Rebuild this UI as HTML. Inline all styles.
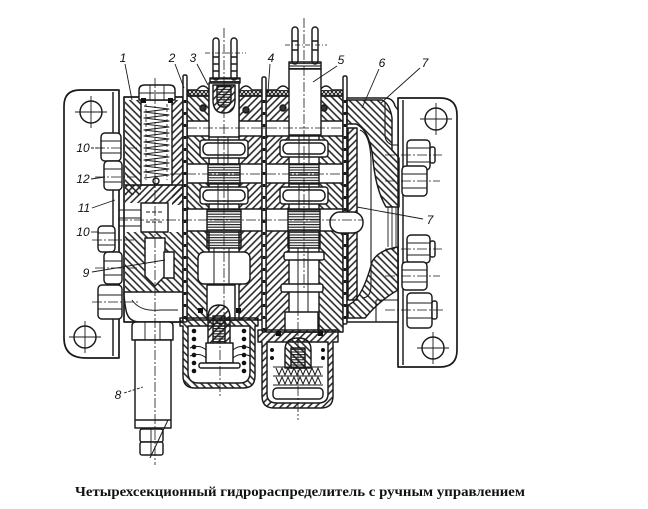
<!DOCTYPE html>
<html><head><meta charset="utf-8">
<style>
html,body{margin:0;padding:0;background:#fff;}
svg{display:block}
</style></head>
<body>
<svg width="648" height="509" viewBox="0 0 648 509" xmlns="http://www.w3.org/2000/svg">
<defs>
<pattern id="hA" width="5" height="5" patternUnits="userSpaceOnUse" patternTransform="rotate(45)"><line x1="1" y1="0" x2="1" y2="5" stroke="#1c1c1c" stroke-width="1.5"/></pattern>
<pattern id="hB" width="5" height="5" patternUnits="userSpaceOnUse" patternTransform="rotate(-45)"><line x1="1" y1="0" x2="1" y2="5" stroke="#1c1c1c" stroke-width="1.5"/></pattern>
<pattern id="hz" width="6" height="2.6" patternUnits="userSpaceOnUse"><line x1="0" y1="1" x2="6" y2="1" stroke="#1c1c1c" stroke-width="1.1"/></pattern>
<pattern id="xh" width="4" height="4" patternUnits="userSpaceOnUse"><path d="M0 0L4 4M4 0L0 4" stroke="#1c1c1c" stroke-width="1"/></pattern>
</defs>
<rect width="648" height="509" fill="#fff"/>
<g fill="none" stroke="#1a1a1a" stroke-width="1.45" stroke-linejoin="round">

<!-- LEFT PLATE -->
<path d="M119 90 H80 Q64 90 64 106 V338 Q64 358 86 358 H119 Z" fill="#fff" stroke-width="1.7"/>
<line x1="113" y1="92" x2="113" y2="356"/>
<circle cx="91" cy="112" r="11"/>
<path d="M75 112H107M91 96V128" stroke-width="0.9"/>
<circle cx="85" cy="337" r="11"/>
<path d="M69 337H101M85 321V353" stroke-width="0.9"/>
<rect x="101" y="133" width="20" height="28" rx="4" fill="#fff"/>
<rect x="104" y="161" width="18" height="29" rx="4" fill="#fff"/>
<rect x="98" y="226" width="17" height="26" rx="4" fill="#fff"/>
<rect x="104" y="252" width="18" height="32" rx="4" fill="#fff"/>
<rect x="98" y="285" width="24" height="34" rx="4" fill="#fff"/>
<path d="M101 141H121M101 153H121M104 169H122M104 182H122M98 233H115M98 245H115M104 261H122M104 275H122M98 295H122M98 309H122" stroke-width="0.9"/>

<!-- RIGHT PLATE -->
<path d="M398 98 H440 Q457 98 457 115 V350 Q457 367 440 367 H398 Z" fill="#fff" stroke-width="1.7"/>
<line x1="403" y1="100" x2="403" y2="365"/>
<circle cx="436" cy="119" r="11"/>
<path d="M420 119H452M436 103V135" stroke-width="0.9"/>
<circle cx="433" cy="348" r="11"/>
<path d="M417 348H449M433 332V364" stroke-width="0.9"/>
<rect x="407" y="140" width="23" height="30" rx="4" fill="#fff"/>
<rect x="402" y="166" width="25" height="30" rx="4" fill="#fff"/>
<rect x="407" y="235" width="23" height="28" rx="4" fill="#fff"/>
<rect x="402" y="262" width="25" height="28" rx="4" fill="#fff"/>
<rect x="407" y="293" width="25" height="35" rx="4" fill="#fff"/>
<rect x="430" y="147" width="5" height="16" rx="2" fill="#fff"/>
<rect x="430" y="241" width="5" height="16" rx="2" fill="#fff"/>
<rect x="432" y="301" width="5" height="18" rx="2" fill="#fff"/>
<path d="M407 148H430M407 162H430M402 174H427M402 188H427M407 243H430M407 255H430M402 270H427M402 282H427M407 303H432M407 318H432" stroke-width="0.9"/>

<!-- RELIEF SECTION (1) -->
<rect x="124" y="97" width="59" height="225" fill="#fff"/>
<rect x="125" y="100" width="16" height="95" fill="url(#hB)" stroke="none"/>
<rect x="172" y="100" width="11" height="105" fill="url(#hA)" stroke="none"/>
<rect x="141" y="100" width="31" height="85" fill="#fff"/>
<path d="M144 106 L169 109 L144 112 L169 115 L144 118 L169 121 L144 124 L169 127 L144 130 L169 133 L144 136 L169 139 L144 142 L169 145 L144 148 L169 151 L144 154 L169 157 L144 160 L169 163 L144 166 L169 169 L144 172 L169 175 L144 178" stroke-width="1.1"/>
<path d="M146 104V180M167 104V180" stroke-width="0.8" stroke-dasharray="3 2"/>
<circle cx="156" cy="181" r="3" fill="#fff"/>
<rect x="125" y="185" width="58" height="18" fill="url(#hA)" stroke="none"/>
<line x1="125" y1="185" x2="183" y2="185"/>
<rect x="141" y="203" width="27" height="29" fill="#fff"/>
<path d="M146 212H163M146 222H163" stroke-dasharray="4 2" stroke-width="0.9"/>
<path d="M119 210H141M119 218H141M119 226H141" stroke-width="0.9"/>
<rect x="125" y="232" width="58" height="60" fill="url(#hB)" stroke="none"/>
<path d="M145 238 H165 V276 L155 286 L145 276 Z" fill="#fff"/>
<rect x="164" y="252" width="10" height="26" fill="#fff"/>
<path d="M124 292 H183 V322 H140 Q128 322 126 310 Q124 300 124 292Z" fill="#fff"/>
<path d="M132 300 Q140 312 160 310 H178" stroke-width="0.9"/>
<rect x="124" y="97" width="59" height="225"/>
<path d="M139 100 V90 Q139 85 145 85 H169 Q175 85 175 90 V100 Z" fill="#fff"/>
<path d="M150 85V100M164 85V100M139 93H175" stroke-width="0.9"/>
<rect x="141" y="98" width="5" height="5" fill="#111" stroke="none"/>
<rect x="168" y="98" width="5" height="5" fill="#111" stroke="none"/>

<!-- CYLINDER 8 -->
<path d="M132 326 Q132 322 136 322 H169 Q173 322 173 326 V340 H132 Z" fill="#fff"/>
<path d="M145 322V340M160 322V340" stroke-width="0.9"/>
<rect x="135" y="340" width="36" height="88" fill="#fff"/>
<path d="M135 420H171"/>
<rect x="140" y="429" width="23" height="13" rx="2" fill="#fff"/>
<rect x="140" y="442" width="23" height="13" rx="2" fill="#fff"/>
<path d="M151 429V455" stroke-width="0.9"/>
<line x1="168" y1="420" x2="150" y2="458" stroke-width="1"/>

<!-- SECTION 2 -->
<rect x="187" y="96" width="22" height="224" fill="url(#hB)" stroke="none"/>
<rect x="239" y="96" width="23" height="224" fill="url(#hA)" stroke="none"/>
<rect x="209" y="96" width="30" height="224" fill="#fff"/>
<rect x="187" y="121" width="75" height="15" fill="#fff"/>
<rect x="200" y="140" width="48" height="18" rx="3" fill="#fff"/>
<rect x="187" y="164" width="75" height="19" fill="#fff"/>
<rect x="200" y="187" width="48" height="17" rx="3" fill="#fff"/>
<rect x="187" y="209" width="75" height="22" fill="#fff"/>
<rect x="198" y="252" width="52" height="32" rx="6" fill="#fff"/>
<path d="M218 136V164M228 136V164M218 184V210M228 184V210M214 248V285M229 248V285" stroke-width="1"/>
<rect x="203" y="143" width="42" height="12" rx="5" fill="#fff"/>
<rect x="203" y="190" width="42" height="11" rx="5" fill="#fff"/>
<path d="M218 143V155M228 143V155M218 190V201M228 190V201" stroke-width="0.9"/>
<rect x="208" y="164" width="32" height="20" fill="url(#hz)"/>
<rect x="207" y="210" width="34" height="38" fill="url(#hz)"/>
<rect x="207" y="285" width="28" height="35" fill="#fff"/>
<rect x="187" y="96" width="75" height="224"/>
<rect x="188" y="90" width="21" height="6" fill="url(#xh)"/>
<rect x="239" y="90" width="23" height="6" fill="url(#xh)"/>
<path d="M197 90 Q203 82 209 90" fill="#fff"/>
<path d="M240 90 Q246 82 252 90" fill="#fff"/>
<circle cx="203" cy="108" r="3" fill="#333"/>
<circle cx="246" cy="110" r="3" fill="#333"/>

<!-- FORK 3 -->
<rect x="213" y="38" width="6" height="42" rx="3" fill="#fff"/>
<rect x="231" y="38" width="6" height="42" rx="3" fill="#fff"/>
<path d="M213 57H219M213 64H219M213 71H219M231 57H237M231 64H237M231 71H237"/>
<line x1="205" y1="53" x2="246" y2="53" stroke-dasharray="5 2 1 2" stroke-width="0.8"/>
<rect x="210" y="78" width="30" height="5" fill="url(#hz)"/>
<path d="M209 83 V137 H239 V83 Z" fill="#fff"/>
<path d="M213 85 V100 Q213 113 224 113 Q235 113 235 100 V85 Z" fill="url(#hA)"/>
<path d="M217 86 V99 Q217 107 224 107 Q231 107 231 99 V86 Z" fill="url(#hz)"/>

<!-- SECTION 3 -->
<rect x="266" y="96" width="23" height="236" fill="url(#hA)" stroke="none"/>
<rect x="319" y="96" width="24" height="236" fill="url(#hB)" stroke="none"/>
<rect x="289" y="135" width="30" height="197" fill="#fff"/>
<rect x="266" y="121" width="77" height="15" fill="#fff"/>
<rect x="280" y="140" width="48" height="17" rx="3" fill="#fff"/>
<rect x="266" y="164" width="77" height="19" fill="#fff"/>
<rect x="280" y="187" width="48" height="17" rx="3" fill="#fff"/>
<rect x="266" y="209" width="77" height="22" fill="#fff"/>
<path d="M299 136V164M309 136V164M299 184V210M309 184V210M298 248V312M308 248V312" stroke-width="1"/>
<rect x="283" y="143" width="42" height="11" rx="5" fill="#fff"/>
<rect x="283" y="190" width="42" height="11" rx="5" fill="#fff"/>
<path d="M299 143V154M309 143V154M299 190V201M309 190V201" stroke-width="0.9"/>
<rect x="289" y="164" width="30" height="20" fill="url(#hz)"/>
<rect x="288" y="210" width="32" height="38" fill="url(#hz)"/>
<rect x="284" y="252" width="40" height="8" rx="2" fill="#fff"/>
<rect x="281" y="284" width="42" height="8" rx="2" fill="#fff"/>
<path d="M298 252V260M308 252V260M298 284V292M308 284V292" stroke-width="0.9"/>
<rect x="285" y="312" width="33" height="20" fill="#fff"/>
<rect x="266" y="96" width="77" height="236"/>
<rect x="267" y="90" width="22" height="6" fill="url(#xh)"/>
<rect x="321" y="90" width="22" height="6" fill="url(#xh)"/>
<path d="M277 90 Q283 82 289 90" fill="#fff"/>
<path d="M320 90 Q326 82 332 90" fill="#fff"/>
<circle cx="283" cy="108" r="3" fill="#333"/>
<circle cx="324" cy="108" r="3" fill="#333"/>

<!-- FORK 5 -->
<rect x="292" y="27" width="6" height="37" rx="3" fill="#fff"/>
<rect x="312" y="27" width="6" height="37" rx="3" fill="#fff"/>
<path d="M292 41H298M292 50H298M312 41H318M312 50H318"/>
<line x1="285" y1="45" x2="327" y2="45" stroke-dasharray="5 2 1 2" stroke-width="0.8"/>
<rect x="289" y="62" width="32" height="7" fill="url(#hz)"/>
<rect x="289" y="69" width="32" height="66" fill="#fff"/>

<!-- PLATES / GASKETS -->
<rect x="183" y="75" width="4" height="247" rx="1.5" fill="#fff"/>
<line x1="185" y1="100" x2="185" y2="320" stroke-width="2.6" stroke-dasharray="3 9"/>
<rect x="262" y="77" width="4" height="255" rx="1.5" fill="#fff"/>
<line x1="264" y1="100" x2="264" y2="330" stroke-width="2.6" stroke-dasharray="3 9"/>
<rect x="343" y="76" width="4" height="248" rx="1.5" fill="#fff"/>
<line x1="345" y1="100" x2="345" y2="320" stroke-width="2.6" stroke-dasharray="3 9"/>

<!-- SECTION 2 CAP -->
<path d="M180 318 H258 V326 H255 V376 Q255 388 243 388 H195 Q183 388 183 376 V326 H180 Z" fill="url(#hB)"/>
<path d="M188 326 V372 Q188 383 198 383 H240 Q250 383 250 372 V326 Z" fill="#fff"/>
<g fill="#111" stroke="none">
<circle cx="194" cy="331" r="2.3"/><circle cx="194" cy="339" r="2.3"/><circle cx="194" cy="347" r="2.3"/><circle cx="194" cy="355" r="2.3"/><circle cx="194" cy="363" r="2.3"/><circle cx="194" cy="371" r="2.3"/>
<circle cx="244" cy="331" r="2.3"/><circle cx="244" cy="339" r="2.3"/><circle cx="244" cy="347" r="2.3"/><circle cx="244" cy="355" r="2.3"/><circle cx="244" cy="363" r="2.3"/><circle cx="244" cy="371" r="2.3"/>
<rect x="198" y="308" width="5" height="5"/><rect x="236" y="308" width="5" height="5"/>
</g>
<path d="M208 344 V318 Q208 305 219 305 Q230 305 230 318 V344 Z" fill="url(#hA)"/>
<rect x="213" y="316" width="12" height="28" fill="url(#hz)"/>
<rect x="206" y="343" width="27" height="20" fill="#fff"/>
<rect x="199" y="363" width="41" height="5" rx="2" fill="#fff"/>
<path d="M190 348 Q200 344 206 350M233 350 Q240 344 250 348M190 356 Q200 352 206 358M233 358 Q240 352 250 356" stroke-width="1"/>

<!-- SECTION 3 CAP -->
<path d="M258 330 H338 V342 H333 V396 Q333 408 321 408 H274 Q262 408 262 396 V342 H258 Z" fill="url(#hA)"/>
<path d="M267 342 V394 Q267 403 277 403 H318 Q328 403 328 394 V342 Z" fill="#fff"/>
<g fill="#111" stroke="none">
<rect x="276" y="331" width="5" height="5"/><rect x="318" y="331" width="5" height="5"/>
<circle cx="272" cy="350" r="2"/><circle cx="272" cy="358" r="2"/><circle cx="323" cy="350" r="2"/><circle cx="323" cy="358" r="2"/>
</g>
<path d="M285 368 V350 Q285 338 298 338 Q311 338 311 350 V368 Z" fill="url(#hB)"/>
<rect x="291" y="348" width="14" height="20" fill="url(#hz)"/>
<path d="M273 367H323M273 376H323M273 385H323" stroke-width="0.9"/>
<path d="M276 368 L279 375 L282 368 L285 375 L288 368 L291 375 L294 368 L297 375 L300 368 L303 375 L306 368 L309 375 L312 368 L315 375 L318 368 L321 375" stroke-width="1"/>
<path d="M276 377 L279 384 L282 377 L285 384 L288 377 L291 384 L294 377 L297 384 L300 377 L303 384 L306 377 L309 384 L312 377 L315 384 L318 377 L321 384" stroke-width="1"/>
<rect x="273" y="388" width="50" height="11" rx="4" fill="#fff"/>

<!-- RIGHT COVER 6/7 -->
<path d="M347 98 H385 Q393 98 395 106 L398 110 V322 H347 Z" fill="#fff"/>
<path d="M347 100 H382 Q390 104 392 118 V150 L399 158 V207 H386 Q376 190 373 160 Q370 130 356 124 H347 Z" fill="url(#hB)"/>
<rect x="348" y="128" width="9" height="172" fill="url(#hA)"/>
<path d="M360 130 Q370 134 371 160 V285 Q371 298 362 298" stroke-width="1.1"/>
<path d="M372 262 Q378 250 398 247 V290 Q380 300 365 318 H348 V305 Q362 300 372 262 Z" fill="url(#hB)"/>
<path d="M388 207V247M392 207V247M396 207V247" stroke-width="0.9"/>
<path d="M385 102 V135 Q385 142 392 145 H398" stroke-width="1.1"/>
<path d="M376 300 V322M376 300 H398" stroke-width="1.1"/>
<rect x="330" y="212" width="33" height="21" rx="10" fill="#fff"/>

<!-- CENTER LINES -->
<g stroke-width="0.8" stroke-dasharray="10 2 2 2">
<line x1="155" y1="78" x2="155" y2="465"/>
<line x1="224" y1="28" x2="224" y2="318"/>
<line x1="220" y1="318" x2="220" y2="396"/>
<line x1="304" y1="18" x2="304" y2="290"/>
<line x1="298" y1="290" x2="298" y2="420"/>
<line x1="187" y1="128" x2="343" y2="128"/>
<line x1="170" y1="174" x2="345" y2="174"/>
<line x1="118" y1="220" x2="362" y2="220"/>
<line x1="95" y1="148" x2="138" y2="148"/>
<line x1="95" y1="177" x2="138" y2="177"/>
<line x1="92" y1="240" x2="135" y2="240"/>
<line x1="95" y1="268" x2="138" y2="268"/>
<line x1="92" y1="302" x2="138" y2="302"/>
<line x1="385" y1="155" x2="442" y2="155"/>
<line x1="385" y1="181" x2="440" y2="181"/>
<line x1="385" y1="249" x2="442" y2="249"/>
<line x1="385" y1="276" x2="440" y2="276"/>
<line x1="385" y1="310" x2="444" y2="310"/>
</g>

<!-- LEADERS -->
<g stroke-width="0.9">
<line x1="125" y1="64" x2="132" y2="100"/>
<line x1="175" y1="64" x2="184" y2="88"/>
<line x1="197" y1="64" x2="208" y2="85"/>
<line x1="270" y1="64" x2="268" y2="92"/>
<line x1="337" y1="66" x2="313" y2="82"/>
<line x1="379" y1="69" x2="362" y2="108"/>
<line x1="420" y1="68" x2="381" y2="103"/>
<line x1="91" y1="148" x2="104" y2="148" stroke-dasharray="3 1.5"/>
<line x1="91" y1="179" x2="105" y2="177"/>
<line x1="92" y1="208" x2="115" y2="200"/>
<line x1="91" y1="232" x2="99" y2="232"/>
<line x1="92" y1="272" x2="165" y2="260"/>
<line x1="124" y1="393" x2="143" y2="387" stroke-dasharray="3 1.5"/>
<line x1="423" y1="219" x2="357" y2="207"/>
</g>
</g>

<!-- LABELS -->
<g font-family="Liberation Sans, sans-serif" font-style="italic" font-size="12" fill="#111" text-anchor="middle">
<text x="123" y="62">1</text>
<text x="172" y="62">2</text>
<text x="193" y="62">3</text>
<text x="271" y="62">4</text>
<text x="341" y="64">5</text>
<text x="382" y="67">6</text>
<text x="425" y="67">7</text>
<text x="83" y="152">10</text>
<text x="83" y="183">12</text>
<text x="84" y="212">11</text>
<text x="83" y="236">10</text>
<text x="86" y="277">9</text>
<text x="118" y="399">8</text>
<text x="430" y="224">7</text>
</g>

<text x="75" y="496" font-family="Liberation Serif, serif" font-weight="bold" font-size="14" fill="#111" textLength="450" lengthAdjust="spacingAndGlyphs">Четырехсекционный гидрораспределитель с ручным управлением</text>
</svg>
</body>
</html>
